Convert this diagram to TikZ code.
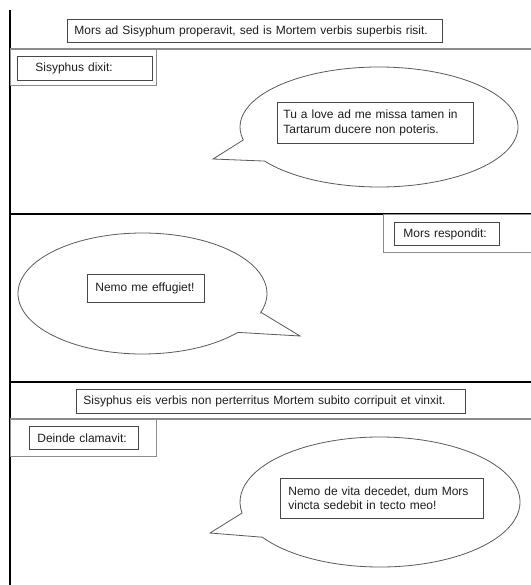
\documentclass[tikz,border=0pt]{standalone}
\usepackage{fontspec}
\setmainfont{Liberation Sans}
\usetikzlibrary{calc}
\definecolor{ink}{HTML}{1E1E1E}
\definecolor{frame}{HTML}{484848}
\definecolor{rule}{HTML}{8C8C8C}
\definecolor{balloon}{HTML}{5A5A5A}

\tikzset{
  textbox/.style={draw=frame, line width=0.8bp, anchor=north west,
                  inner xsep=7bp, inner ysep=0pt, align=left, text=ink,
                  font=\fontsize{12bp}{14.5bp}\selectfont},
  panelrule/.style={draw=black, line width=2bp},
  thinrule/.style={draw=rule, line width=1.2bp},
  balloon/.style={draw=balloon, line width=0.8bp, fill=white},
}

\begin{document}
\begin{tikzpicture}[x=1bp, y=-1bp]
\useasboundingbox (0,0) rectangle (531,585);

% panel rules
\draw[panelrule] (10,10) -- (10,585);
\draw[thinrule] (10,49) -- (531,49);
\draw[panelrule] (10,214) -- (531,214);
\draw[panelrule] (10,381.5) -- (531,381.5);
\draw[thinrule] (10,419) -- (531,419);

% speaker frames
\draw[thinrule, line width=1bp] (10,49) rectangle (156,86);
\draw[thinrule, line width=1bp] (383,214) rectangle (531,252);
\draw[thinrule, line width=1bp] (10,419) rectangle (156,456);

% panel 1
\node[textbox, text width=361bp, minimum height=23bp] (title1) at (67,19)
  {Mors ad Sisyphum properavit, sed is Mortem verbis superbis risit.};
\node[textbox, inner xsep=18bp, text width=99bp, minimum height=24bp] (say1) at (17,56)
  {Sisyphus dixit:};
\draw[balloon] ($(379,127)+(167.5:139 and 60)$) -- (213,159)
  -- ($(379,127)+(145.4:139 and 60)$)
  arc[start angle=145.4, end angle=-192.5, x radius=139, y radius=60] -- cycle;
\node[textbox, inner xsep=6bp, text width=184bp, minimum height=41bp] (speech1) at (277,102)
  {Tu a love ad me missa tamen in\\Tartarum ducere non poteris.};

% panel 2
\node[textbox, inner xsep=9bp, text width=87bp, minimum height=23bp] (say2) at (394,222)
  {Mors respondit:};
\draw[balloon] ($(142.5,293.5)+(18.1:124.5 and 60.5)$) -- (300,336)
  -- ($(142.5,293.5)+(40:124.5 and 60.5)$)
  arc[start angle=40, end angle=378.1, x radius=124.5, y radius=60.5] -- cycle;
\node[textbox, inner xsep=8bp, text width=101bp, minimum height=28bp] (speech2) at (87,274)
  {Nemo me effugiet!};

% panel 3
\node[textbox, text width=375bp, minimum height=24bp] (title3) at (76,389)
  {Sisyphus eis verbis non perterritus Mortem subito corripuit et vinxit.};
\node[textbox, inner xsep=8bp, text width=93bp, minimum height=23bp] (say3) at (29,426)
  {Deinde clamavit:};
\draw[balloon] ($(380,502)+(170.2:140 and 65)$) -- (210,533)
  -- ($(380,502)+(147.2:140 and 65)$)
  arc[start angle=147.2, end angle=-189.8, x radius=140, y radius=65] -- cycle;
\node[textbox, inner xsep=8bp, text width=187bp, minimum height=40bp] (speech3) at (280,478)
  {Nemo de vita decedet, dum Mors\\vincta sedebit in tecto meo!};
\end{tikzpicture}
\end{document}
